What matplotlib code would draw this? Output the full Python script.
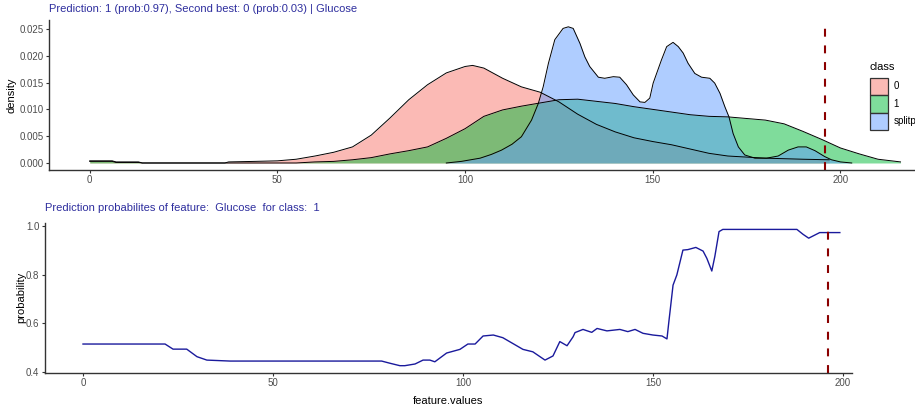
import matplotlib
matplotlib.use("Agg")
import matplotlib.pyplot as plt
from matplotlib.patches import Patch
from matplotlib.colors import to_rgba

plt.rcParams['font.family'] = ['Liberation Sans', 'DejaVu Sans']

# ---------------- data ----------------
class_labels = ["0", "1", "splitpoint"]
class_colors = ["#F8766D", "#00BA38", "#619CFF"]

x_class0 = [0, 6, 7, 13, 14, 36, 37, 44, 50, 55, 60, 65, 70, 75, 80, 85, 90, 95, 100, 102, 105,
            110, 115, 120, 125, 130, 135, 140, 145, 150, 155, 160, 165, 170, 175, 180, 190, 197]
d_class0 = [.0004, .0004, .0002, .0002, 0, 0, .0002, .0003, .0004, .0007, .0013, .0020, .0030,
            .0052, .0084, .0118, .0146, .0168, .0180, .0182, .0177, .0158, .0142, .0132, .0114,
            .0091, .0072, .0058, .0047, .0040, .0034, .0026, .0018, .0013, .0011, .0009, .0007, .0006]

x_class1 = [0, 6, 7, 13, 14, 55, 60, 65, 70, 75, 80, 85, 90, 95, 100, 105, 110, 115, 120, 125,
            130, 135, 140, 145, 150, 155, 160, 165, 170, 175, 180, 185, 190, 195, 200, 205, 210, 216]
d_class1 = [.0003, .0003, .0001, .0001, 0, 0, .0002, .0003, .0006, .0010, .0017, .0023, .0030,
            .0046, .0064, .0087, .0099, .0106, .0112, .0118, .0119, .0115, .0111, .0105, .0100,
            .0095, .0090, .0087, .0086, .0083, .0080, .0073, .0059, .0044, .0028, .0017, .0007, .0002]

x_split = [95, 99, 104, 107, 109.7, 112.5, 115, 117.7, 119.5, 120.8, 122.2, 123.9, 126.1, 127.5,
           128.8, 130.6, 131.9, 133.2, 135.5, 137.2, 139.5, 141.2, 143, 144.8, 146.6, 147.9,
           149.2, 150.1, 152.3, 153.7, 155.4, 156.8, 158.1, 159.4, 161.2, 163, 165.2, 166.5,
           167.9, 169.2, 170.3, 171.4, 172.8, 174.5, 177.2, 180.3, 183.4, 186.1, 188.7, 190.9,
           193.2, 195.8, 197.6, 200, 203]
d_split = [0, .0003, .0009, .0016, .0024, .0035, .0049, .0080, .0111, .0142, .0186, .0230, .0251,
           .0254, .0251, .0223, .0198, .0180, .0160, .0158, .0161, .0160, .0146, .0127, .0114,
           .0113, .0121, .0149, .0192, .0217, .0225, .0217, .0205, .0186, .0167, .0160, .0158,
           .0149, .0130, .0105, .0086, .0055, .0030, .0015, .0009, .0009, .0013, .0024, .0030,
           .0030, .0023, .0012, .0006, .0002, 0]

feature_values = [0, 21.6, 23.7, 27.3, 30, 32.6, 38.7, 78.6, 80.8, 83.4, 84.7, 87.4, 89.5, 91.3,
                  92.6, 95.7, 99.2, 101.3, 103.2, 105.3, 108, 110.5, 115.8, 118.4, 121.6, 123.7,
                  125.5, 127.4, 129, 129.5, 131.6, 133.9, 135.3, 137.9, 141.3, 143.4, 145.3, 147.4,
                  150, 152.4, 153.7, 154.2, 154.7, 155.3, 156.3, 157.9, 159.2, 161.3, 163.2, 164.2,
                  165.5, 166.3, 167.4, 168.4, 187.9, 189.5, 191, 193.9, 199.2]
probability = [.515, .515, .494, .494, .463, .449, .445, .445, .436, .426, .426, .433, .449, .449,
               .442, .478, .493, .515, .515, .548, .552, .541, .493, .483, .449, .466, .525, .508,
               .545, .562, .575, .563, .579, .569, .575, .566, .575, .559, .552, .548, .536, .607,
               .675, .757, .799, .901, .903, .912, .897, .867, .815, .875, .977, .986, .986, .966,
               .950, .973, .973]

observed_value = 196

title_top = "Prediction: 1 (prob:0.97), Second best: 0 (prob:0.03) | Glucose"
title_bottom = "Prediction probabilites of feature:  Glucose  for class:  1"

# ---------------- figure ----------------
W, H = 915, 413
fig = plt.figure(figsize=(W / 100, H / 100), dpi=100)

def px_axes(l, r, t, b):
    return [l / W, 1 - b / H, (r - l) / W, (b - t) / H]

title_col = "#2e2e9e"
tick_col = "#4d4d4d"
axis_col = "#333333"

def style(ax):
    for s in ["top", "right"]:
        ax.spines[s].set_visible(False)
    for s in ["left", "bottom"]:
        ax.spines[s].set_color(axis_col)
        ax.spines[s].set_linewidth(1.0)
    ax.tick_params(direction="out", length=2.5, width=0.8, color=axis_col,
                   labelsize=7, labelcolor=tick_col, pad=1.5)

# top panel
ax1 = fig.add_axes(px_axes(49, 945, 20, 169.8))
style(ax1)
for xs, ds, c in zip([x_class0, x_class1, x_split], [d_class0, d_class1, d_split], class_colors):
    ax1.fill_between(xs, 0, ds, color=c, alpha=0.5, linewidth=0)
    ax1.plot(xs, ds, color="black", linewidth=0.7)
ax1.axvline(observed_value, color="#8B0000", linewidth=1.5, linestyle=(0, (3.8, 4.2)))
ax1.set_xlim(-10.85, 227.85)
ax1.set_ylim(-0.00127, 0.02667)
ax1.set_xticks([0, 50, 100, 150, 200])
ax1.set_yticks([0, 0.005, 0.010, 0.015, 0.020, 0.025])
ax1.set_yticklabels(["0.000", "0.005", "0.010", "0.015", "0.020", "0.025"])
ax1.set_ylabel("density", fontsize=8, labelpad=2)
fig.text(49 / W, 1 - 9 / H, title_top, color=title_col, fontsize=8, ha="left", va="center")

# legend
handles = [Patch(facecolor=to_rgba(c, 0.5), edgecolor="#333333", linewidth=0.9)
           for c in class_colors]
leg = fig.legend(handles, class_labels, title="class", loc="upper left",
                 bbox_to_anchor=(870 / W, 1 - 62 / H), frameon=False, fontsize=7,
                 title_fontsize=8, handlelength=1.8, handleheight=2.4,
                 labelspacing=0.0, handletextpad=0.6, borderaxespad=0, borderpad=0)
leg._legend_box.align = "left"
leg._legend_box.sep = 4

# bottom panel
ax2 = fig.add_axes(px_axes(45, 852, 222.6, 372.5))
style(ax2)
ax2.plot(feature_values, probability, color="#1a1a9c", linewidth=1.0)
ax2.axvline(observed_value, ymax=0.97, color="#8B0000", linewidth=1.5, linestyle=(0, (3.8, 4.2)))
ax2.set_xlim(-10, 202.4)
ax2.set_ylim(0.398, 1.014)
ax2.set_xticks([0, 50, 100, 150, 200])
ax2.set_yticks([0.4, 0.6, 0.8, 1.0])
ax2.set_ylabel("probability", fontsize=8, labelpad=0)
ax2.set_xlabel("feature.values", fontsize=8, labelpad=6)
fig.text(45 / W, 1 - 208 / H, title_bottom, color=title_col, fontsize=8, ha="left", va="center")

fig.savefig("out.png", dpi=100)
